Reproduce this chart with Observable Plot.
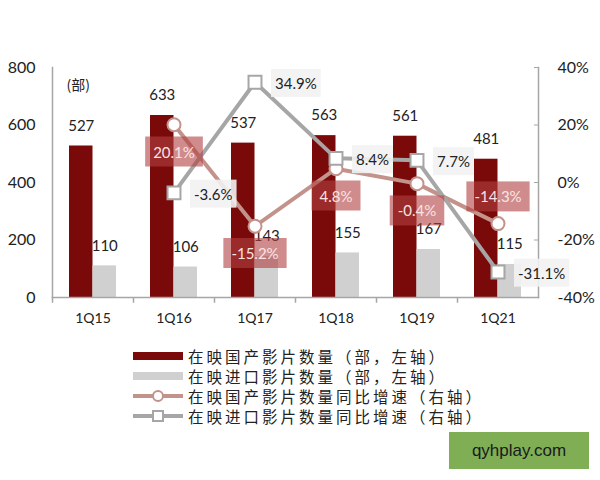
<!DOCTYPE html>
<html><head><meta charset="utf-8">
<script src="https://cdn.jsdelivr.net/npm/d3@7"></script>
<script src="https://cdn.jsdelivr.net/npm/@observablehq/plot@0.6"></script>
<style>
body{margin:0;background:#fff;}
#wrap{position:relative;width:600px;height:480px;overflow:hidden;background:#fff;}
#legend{position:absolute;left:133px;top:346px;font-family:"Noto Sans CJK SC",sans-serif;font-size:15.5px;letter-spacing:3px;color:#222;}
.row{height:20px;display:flex;align-items:center;white-space:nowrap;}
.row svg{margin-right:5px;flex:none;}
#wm{position:absolute;left:449px;top:432px;width:140px;height:37px;background:#7fae55;color:#1a1a1a;font-size:17px;display:flex;align-items:center;justify-content:center;font-family:"Liberation Sans",Arial,sans-serif;}
</style></head>
<body><div id="wrap"><div id="chart"></div><div id="legend"></div><div id="wm">qyhplay.com</div></div>
<script>
const quarters = ["1Q15","1Q16","1Q17","1Q18","1Q19","1Q21"];
const domesticFilms = [527,633,537,563,561,481];
const importedFilms = [110,106,143,155,167,115];
const domesticGrowth = [null,20.1,-15.2,4.8,-0.4,-14.3];
const importedGrowth = [null,-3.6,34.9,8.4,7.7,-31.1];
const leftTicks = [0,200,400,600,800];
const rightTicks = [-40,-20,0,20,40];
const unitLabel = "(部)";
const legendLabels = [
  "在映国产影片数量（部，左轴）",
  "在映进口影片数量（部，左轴）",
  "在映国产影片数量同比增速（右轴）",
  "在映进口影片数量同比增速（右轴）"
];

const C_DOM = "#7a0a0a", C_IMP = "#d0d0d0", C_DG = "#c3928a", C_IG = "#a6a6a6", C_AX = "#a6a6a6";
// map right-axis percent into left-axis units (-40%..40% -> 0..800)
const toLeft = p => (p + 40) * 10;

const rows = quarters.map((q, i) => ({q, dom: domesticFilms[i], imp: importedFilms[i], dg: domesticGrowth[i], ig: importedGrowth[i]}));
const growth = rows.filter(d => d.dg != null);
const fmtPct = v => v.toFixed(1) + "%";

const chart = Plot.plot({
  width: 600, height: 340,
  marginTop: 67, marginBottom: 43, marginLeft: 52, marginRight: 62,
  style: {fontFamily: "Lato, 'Noto Sans CJK SC', sans-serif", fontSize: "14px", color: "#222", background: "#fff"},
  x: {domain: quarters, paddingInner: 0.42, paddingOuter: 0.21, label: null},
  y: {domain: [0, 800], label: null},
  marks: [
    Plot.barY(rows, {x: "q", y: "dom", fill: C_DOM, insetRight: 23.5}),
    Plot.barY(rows, {x: "q", y: "imp", fill: C_IMP, insetLeft: 23.5}),
    Plot.frame({anchor: "left", stroke: C_AX, strokeWidth: 1.5}),
    Plot.frame({anchor: "right", stroke: C_AX, strokeWidth: 1.5}),
    Plot.frame({anchor: "bottom", stroke: C_AX, strokeWidth: 1.5}),
    Plot.ruleX(quarters, {x: d => d, y1: 0, y2: -20, dx: -40.5, stroke: C_AX, strokeWidth: 1.5}),
    Plot.axisY(leftTicks, {anchor: "left", tickSize: 0, tickPadding: 17, fontSize: 16, label: null}),
    Plot.axisY(rightTicks.map(toLeft), {anchor: "right", tickSize: 0, tickPadding: 19, fontSize: 16, label: null, tickFormat: d => Math.round(d / 10 - 40) + "%"}),
    Plot.axisY(rightTicks.map(toLeft), {anchor: "right", tickSize: 5, dx: -5, stroke: C_AX, label: null, tickFormat: () => ""}),
    Plot.axisX({tickSize: 0, tickPadding: 16, fontSize: 14, label: null}),
    Plot.text([unitLabel], {frameAnchor: "top-left", dx: 14, dy: 13, fontSize: 14, fontFamily: "'Noto Sans CJK SC'"}),
    Plot.text(rows, {x: "q", y: "dom", text: d => String(d.dom), dx: -11.75, dy: -20, fontSize: 15, fill: "#222"}),
    Plot.text(rows, {x: "q", y: "imp", text: d => String(d.imp), dx: 11.75, dy: -20, fontSize: 15, fill: "#222"}),
    Plot.line(growth, {x: "q", y: d => toLeft(d.dg), stroke: C_DG, strokeWidth: 4}),
    Plot.line(growth, {x: "q", y: d => toLeft(d.ig), stroke: C_IG, strokeWidth: 4}),
    Plot.dot(growth, {x: "q", y: d => toLeft(d.dg), r: 6.5, fill: "#fff", stroke: C_DG, strokeWidth: 2}),
    Plot.dot(growth, {x: "q", y: d => toLeft(d.ig), r: 7.3, symbol: "square", fill: "#fff", stroke: C_IG, strokeWidth: 2}),
    Plot.text(growth.slice(0, -1), {x: "q", y: d => toLeft(d.dg), text: d => fmtPct(d.dg), dy: 28, fontSize: 15, fill: "#f8e4e4"}),
    Plot.text(growth.slice(-1), {x: "q", y: d => toLeft(d.dg), text: d => fmtPct(d.dg), dy: -26, fontSize: 15, fill: "#f8e4e4"}),
    Plot.text(growth, {x: "q", y: d => toLeft(d.ig), text: d => fmtPct(d.ig), dx: 20, dy: 2, textAnchor: "start", fontSize: 15, fill: "#222"})
  ]
});
document.getElementById("chart").appendChild(chart);

// label background boxes, matched by the label text
const dgSet = new Set(growth.map(d => fmtPct(d.dg)));
const igSet = new Set(growth.map(d => fmtPct(d.ig)));
function addBox(t, fill, opacity, px, py) {
  const b = t.getBBox();
  const r = document.createElementNS("http://www.w3.org/2000/svg", "rect");
  r.setAttribute("x", b.x - px); r.setAttribute("y", b.y - py);
  r.setAttribute("width", b.width + 2 * px); r.setAttribute("height", b.height + 2 * py);
  r.setAttribute("fill", fill); r.setAttribute("fill-opacity", opacity);
  const tr = t.getAttribute("transform");
  if (tr) r.setAttribute("transform", tr);
  t.parentNode.insertBefore(r, t);
}
chart.querySelectorAll("text").forEach(t => {
  const s = t.textContent.trim();
  if (dgSet.has(s)) addBox(t, "#b04040", 0.6, 8, 6);
  else if (igSet.has(s)) addBox(t, "#f2f2f2", 0.9, 4, 5);
});

// legend
const legend = d3.select("#legend");
const swatches = [
  s => s.append("rect").attr("x", 0).attr("y", 6).attr("width", 50).attr("height", 8).attr("fill", C_DOM),
  s => s.append("rect").attr("x", 0).attr("y", 6).attr("width", 50).attr("height", 8).attr("fill", C_IMP),
  s => { s.append("line").attr("x1", 0).attr("x2", 50).attr("y1", 10).attr("y2", 10).attr("stroke", C_DG).attr("stroke-width", 4);
         s.append("circle").attr("cx", 25).attr("cy", 10).attr("r", 5).attr("fill", "#fff").attr("stroke", C_DG).attr("stroke-width", 2); },
  s => { s.append("line").attr("x1", 0).attr("x2", 50).attr("y1", 10).attr("y2", 10).attr("stroke", C_IG).attr("stroke-width", 4);
         s.append("rect").attr("x", 20).attr("y", 5).attr("width", 10).attr("height", 10).attr("fill", "#fff").attr("stroke", C_IG).attr("stroke-width", 2); }
];
legendLabels.forEach((lab, i) => {
  const row = legend.append("div").attr("class", "row");
  const s = row.append("svg").attr("width", 50).attr("height", 20);
  swatches[i](s);
  row.append("span").text(lab);
});
</script>
</body></html>
